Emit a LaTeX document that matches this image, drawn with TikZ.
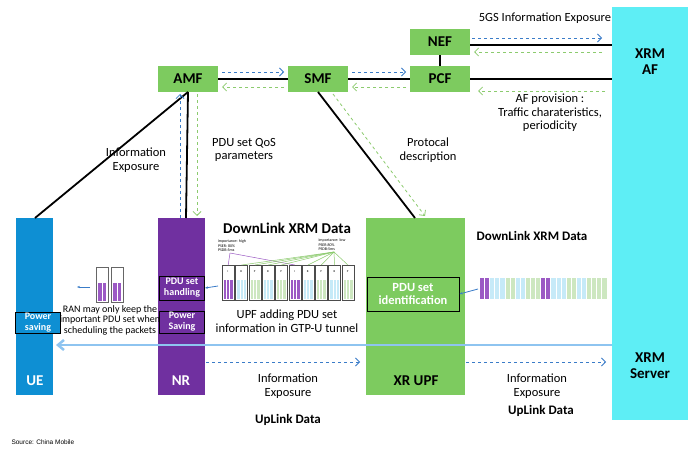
\documentclass[tikz,border=0pt]{standalone}
\usepackage{fontspec}
\setmainfont{Carlito}
\newfontfamily\arialf{Liberation Sans}
\usetikzlibrary{arrows.meta}
\definecolor{gr}{HTML}{7DCB5F}
\definecolor{cy}{HTML}{5EEEF5}
\definecolor{ub}{HTML}{0E8FD3}
\definecolor{pu}{HTML}{7030A0}
\definecolor{db}{HTML}{3A7CC8}
\definecolor{dg}{HTML}{8CCB6E}
\definecolor{lb}{HTML}{8EC4F0}
\definecolor{pl}{HTML}{C6EAF8}
\definecolor{gl}{HTML}{CDE7C0}
\definecolor{pp}{HTML}{9B59C4}
\newcommand\fsA{\fontsize{12.5}{13.5}\selectfont}
\newcommand\fsB{\fontsize{15}{16}\selectfont}
\begin{document}
\begin{tikzpicture}[x=1pt,y=-1pt,
 nf/.style={fill=gr,minimum width=60pt,minimum height=26pt,font=\bfseries\fsB,inner sep=0},
 col/.style={minimum width=#1,anchor=north west,inner sep=0},
 bl/.style={line width=1.8pt},
 bd/.style={db,dashed,thick,-{Straight Barb[length=4pt]}},
 gd/.style={dg,dashed,thick,-{Straight Barb[length=4pt]}},
 ib/.style={draw=black,line width=1pt,text=white,font=\bfseries\fontsize{10}{11}\selectfont,align=center,inner sep=1pt},
 tx/.style={font=\fsA,align=center}]
\useasboundingbox (0,0) rectangle (690,452);
\fill[white] (0,0) rectangle (690,452);
% columns
\node[col=76pt,fill=cy,minimum height=413pt] (xrm) at (612,7) {};
\node[col=37pt,fill=ub,minimum height=177pt] (ue) at (16,218) {};
\node[col=47pt,fill=pu,minimum height=177pt] (nr) at (158,218) {};
\node[col=99pt,fill=gr,minimum height=177pt] (upf) at (366,218) {};
\node[font=\bfseries\fsB,align=center] (af) at (650,62) {XRM\\AF};
\node[font=\bfseries\fsB,align=center] (srv) at (650,366) {XRM\\Server};
\node[font=\bfseries\fsB,text=white] (uel) at (35,381) {UE};
\node[font=\bfseries\fsB,text=white] (nrl) at (181,381) {NR};
\node[font=\bfseries\fsB] (upfl) at (416,381) {XR UPF};
% NF boxes
\node[nf] (amf) at (188,79) {AMF};
\node[nf] (smf) at (318,79) {SMF};
\node[nf] (pcf) at (440,79) {PCF};
\node[nf] (nef) at (440,42) {NEF};
\coordinate (xafA) at (612,45);
\coordinate (xafB) at (612,79);
\draw[bl] (amf) -- (smf); \draw[bl] (smf) -- (pcf);
\draw[bl] (pcf) -- (xafB); \draw[bl] (nef.east|-xafA) -- (xafA);
\draw[bl] (nef) -- (pcf);
\draw[bd] (222,72) -- (284,72); \draw[bd] (352,72) -- (406,72);
\draw[bd] (472,38) -- (602,38);
\draw[gd] (284,87) -- (222,87); \draw[gd] (406,87) -- (352,87);
\draw[gd] (602,52) -- (474,52); \draw[gd] (605,91) -- (478,91);
% links to RAN / UPF
\draw[bl] (188,92) -- (35,218);
\draw[bl] (188,92) -- (186,218);
\draw[bd] (180,218) -- (180,94);
\draw[gd] (197,94) -- (197,216);
\draw[bl] (318,92) -- (415,218);
\draw[gd] (333,94) -- (425,216);
\node[tx] (ie1) at (136,160) {Information\\Exposure};
\node[tx] (qos) at (244,150) {PDU set QoS\\parameters};
\node[tx] (pd) at (428,150) {Protocal\\description};
\node[tx] (g5) at (545,18) {5GS Information Exposure};
\node[tx] (afp) at (550,113) {AF provision :\\Traffic charateristics,\\periodicity};
\node[font=\bfseries\fsB] (dl1) at (287,228) {DownLink XRM Data};
\node[font=\bfseries\fontsize{13}{14}\selectfont] (dl2) at (532,236) {DownLink XRM Data};
% packets
\foreach \l/\c [count=\i] in {I/pp,B/pl,P/gl,B/pl,P/gl,I/pp,B/pl,P/gl,B/pl,P/gl}{
  \pgfmathsetmacro\xx{222+(\i-1)*13.3}
  \node[draw=black!70,fill=white,line width=.4pt,minimum width=12pt,minimum height=35pt,anchor=north west,inner sep=0] (pk\i) at (\xx,265) {};
  \fill[\c] (\xx+2,280) rectangle (\xx+11,299);
  \foreach \k in {4.5,7.5}{\draw[white,line width=.6pt] (\xx+\k,280) -- (\xx+\k,299);}
  \node[font=\fontsize{3}{3}\selectfont] at (\xx+6,272) {\l};
}
\node[font=\fontsize{4}{4.5}\selectfont,align=left] (ih) at (232,246) {importance: high\\PSER: 80\%\\PSDB:5ms};
\node[font=\fontsize{4}{4.5}\selectfont,align=left] (il) at (332,245) {importance: low\\PSER:80\%\\PSDB:5ms};
\foreach \i in {1,6}{\draw[pp,line width=.5pt] (230,253) -- (pk\i.north);}
\foreach \i in {2,3,4,5,7,8,9,10}{\draw[dg,line width=.5pt] (334,252) -- (pk\i.north);}
\node[tx] (upfa) at (287,321) {UPF adding PDU set\\information in GTP-U tunnel};
% NR boxes
\node[ib,fill=pu,minimum width=45pt,minimum height=24pt] (psh) at (182,288) {PDU set\\handling};
\node[ib,fill=pu,minimum width=45pt,minimum height=22pt] (psn) at (182,322) {Power\\Saving};
\node[ib,fill=ub,minimum width=45pt,minimum height=20pt] (psu) at (38,323) {Power\\saving};
\node[ib,fill=gr,minimum width=92pt,minimum height=34pt,font=\bfseries\fsA] (pid) at (413,294) {PDU set\\identification};
\coordinate (a1) at (218,286);
\draw[db,thick,-{Stealth[length=3pt]}] (a1) -- (psh.east);
% left packets
\foreach \i/\xx in {1/96,2/111}{
  \node[draw=black!60,fill=white,line width=.4pt,minimum width=12pt,minimum height=35pt,anchor=north west,inner sep=0] (lp\i) at (\xx,267) {};
  \fill[pp] (\xx+2,283) rectangle (\xx+10,301);
  \draw[white,line width=.6pt] (\xx+6,283) -- (\xx+6,301);
}
\coordinate (a2) at (90,287);
\draw[db,thick,-{Stealth[length=3pt]}] (a2) -- ++(-13,0) coordinate (a2e);
\node[align=center,font=\fontsize{10}{10.5}\selectfont,inner sep=0] (ran) at (110,320) {RAN may only keep the\\important PDU set when\\scheduling the packets};
% right strip
\foreach \c [count=\i] in {pp,pp,pl,pl,pl,gl,gl,pl,pl,gl,gl,gl,pp,pp,pl,pl,pl,gl,gl,pl,pl,gl,gl,gl,gl}{
  \fill[\c] (480+\i*5.1-5.1,278) rectangle (480+\i*5.1-1,299);
}
\coordinate (a3) at (478,289);
\draw[db,thick,-{Stealth[length=3pt]}] (a3) -- (pid.east);
% uplink
\coordinate (ul1) at (612,345); \coordinate (ul2) at (56,345);
\draw[lb,line width=2.5pt,-{Straight Barb[length=6pt,width=10pt]}] (ul1) -- (ul2);
\draw[bd] (206,362) -- (360,362);
\draw[bd] (466,362) -- (606,362);
\node[tx] (ie2) at (288,386) {Information\\Exposure};
\node[tx] (ie3) at (537,386) {Information\\Exposure};
\node[font=\bfseries\fontsize{13}{14}\selectfont] (ul3) at (288,420) {UpLink Data};
\node[font=\bfseries\fontsize{13}{14}\selectfont] (ul4) at (541,411) {UpLink Data};
\node[font=\arialf\fontsize{6.5}{7}\selectfont,anchor=west] (src) at (8,442) {Source: China Mobile};
\end{tikzpicture}
\end{document}
